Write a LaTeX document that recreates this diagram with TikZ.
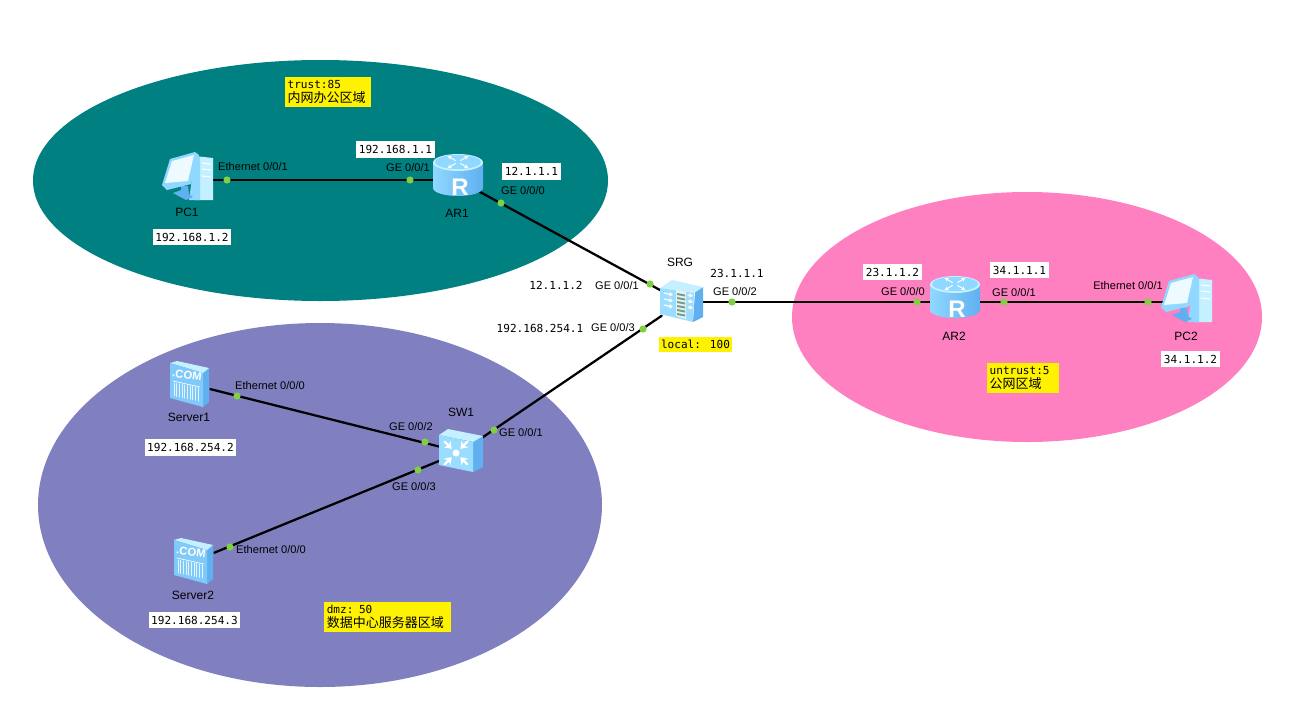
\documentclass[tikz,border=0pt]{standalone}
\usepackage{fontspec}
\usetikzlibrary{arrows.meta}
\setmainfont{Liberation Sans}
\newfontfamily\monofont{DejaVu Sans Mono}
\newfontfamily\cjkfont{Noto Sans CJK SC}
\definecolor{zoneteal}{HTML}{008080}
\definecolor{zonepurple}{HTML}{8080C0}
\definecolor{zonepink}{HTML}{FF80C0}
\definecolor{portgreen}{HTML}{80D040}
\definecolor{iconlight}{HTML}{C4F0FF}
\definecolor{iconmid}{HTML}{90D8FF}
\definecolor{icondark}{HTML}{60B0F0}
\definecolor{brickgrey}{HTML}{70A090}
\tikzset{
  device/.style={inner sep=0pt,minimum width=30pt,minimum height=22pt},
  devname/.style={font=\fontsize{9}{10}\selectfont,text=black,inner sep=0pt},
  port/.style={circle,fill=portgreen,inner sep=0pt,minimum size=5.4pt},
  portname/.style={font=\fontsize{8.3}{10}\selectfont,text=black,inner sep=0pt},
  ipbox/.style={font=\fontsize{8.3}{10}\monofont,fill=white,inner xsep=2pt,inner ysep=0pt,minimum height=12.5pt},
  ipbare/.style={font=\fontsize{8.3}{10}\monofont,inner sep=0pt},
  zonebox/.style={fill=yellow,align=left,inner xsep=2pt,inner ysep=1.5pt,minimum height=22.5pt,font=\fontsize{8.3}{10.5}\monofont},
  link/.style={line width=1.7pt,black},
  % ----- icons, drawn around the centre of the device
  routericon/.pic={
    \shade[left color=iconmid,middle color=iconlight,right color=icondark] (-25,-17) -- (-25,8) arc[start angle=180,end angle=0,x radius=25,y radius=8] -- (25,-17) -- cycle;
    \fill[iconlight] (0,-17.5) ellipse[x radius=25,y radius=8.5];
    \fill[iconmid] (0,-18) ellipse[x radius=23,y radius=7];
    \foreach \a in {30,150,210,330}
      \draw[white,line width=.7pt,-{Stealth[length=3pt,width=3pt]}] (0,-18) ++(\a:3) -- ++(\a:9);
    \node[text=white,font=\bfseries\fontsize{18}{18}\selectfont,inner sep=0pt] (letter) at (2,7) {R};
  },
  boxbody/.pic={
    \fill[icondark] (13,-10) -- (21,-15) -- (21,15) -- (11,20) -- cycle;
    \fill[iconlight] (-22,-14) -- (-10,-22) -- (21,-15) -- (12,-9) -- cycle;
    \fill[iconmid!80!iconlight] (-22,-14) -- (12,-9) -- (11,20) -- (-22,12) -- cycle;
  },
  firewallicon/.pic={
    \pic {boxbody};
    \fill[white!85!brickgrey] (-6,-12) -- (4,-10) -- (4,17) -- (-6,14) -- cycle;
    \foreach \y in {-9,-5,-1,3,7,11}
      \fill[brickgrey] (-5,\y) -- (3,\y+1.5) -- (3,\y+3.5) -- (-5,\y+2) -- cycle;
    \foreach \y in {-8,-2,4}{
      \draw[white,line width=.9pt,-{Stealth[length=3pt,width=3.5pt]}] (-18,\y-1) -- (-9,\y+1);
      \draw[white,line width=.9pt,-{Stealth[length=3pt,width=3.5pt]}] (6,\y+1) -- (11,\y+2);
    }
  },
  switchicon/.pic={
    \fill[icondark] (12,-10) -- (22,-16) -- (22,15) -- (12,20) -- cycle;
    \fill[iconlight] (-22,-17) -- (-13,-23) -- (22,-16) -- (12,-10) -- cycle;
    \fill[iconmid!80!iconlight] (-22,-17) -- (12,-10) -- (12,20) -- (-22,13) -- cycle;
    \fill[white] (-5,1) circle (3.5);
    \foreach \a in {45,135,225,315}
      \draw[white,line width=1.7pt,{Stealth[length=5pt,width=7pt]}-] (-5,1) ++(\a:6) -- ++(\a:10);
  },
  servericon/.pic={
    \fill[icondark] (13,-11) -- (19,-16) -- (19,18) -- (13,23) -- cycle;
    \fill[iconlight] (-20,-21) -- (-13,-23) -- (19,-16) -- (13,-11) -- cycle;
    \fill[iconmid!65!icondark] (-20,-21) -- (13,-11) -- (13,23) -- (-20,14) -- cycle;
    \node[text=white,font=\bfseries\fontsize{8.5}{9}\selectfont,inner sep=0pt,rotate=-8] (dotcom) at (-3,-9) {.COM};
    \draw[white,line width=.5pt] (-17,-3) -- (10,3);
    \foreach \x in {-16,-13.5,-11,-8,-5.5,-3,0,2.5,5,8}
      \draw[white!85!icondark,line width=.7pt] (\x,{-1+(\x+16)*.2}) -- (\x,{12+(\x+16)*.2});
  },
  pcicon/.pic={
    % tower
    \fill[iconlight] (8,-24) -- (26,-22) -- (26,20) -- (8,20) -- cycle;
    \fill[iconmid] (8,-24) -- (13,-23) -- (13,20) -- (2,20) -- cycle;
    \draw[white,line width=.8pt] (15,-17) -- (24,-16) (15,-11) -- (24,-10) (15,-4) -- (24,-3);
    % foot
    \fill[icondark] (-6,6) -- (1,6) -- (2,14) -- (6,17) -- (-1,20) -- (-14,13) -- (-6,10) -- cycle;
    % monitor
    \fill[iconmid] (-25,5) -- (-17,-21) -- (8,-28) -- (12,-25) -- (4,4) -- (-20,10) -- cycle;
    \fill[white!70!iconlight] (-22,3) -- (-15,-19) -- (7,-25) -- (1,1) -- cycle;
  },
}
\begin{document}
\begin{tikzpicture}[x=0.75pt,y=-0.75pt,line cap=round,line join=round]
  \useasboundingbox (0,0) rectangle (1310,718);

  %-------------------------
  % Zones
  %-------------------------
  \fill[zoneteal] (320.5,180.5) ellipse[x radius=287.5,y radius=120.5];
  \fill[zonepurple] (320,505) ellipse[x radius=282,y radius=182];
  \fill[zonepink] (1027,317) ellipse[x radius=235,y radius=125];

  %-------------------------
  % Devices
  %-------------------------
  \node[device] (PC1) at (187,180) {};
  \node[device] (AR1) at (458,180) {};
  \node[device] (SRG) at (682,302) {};
  \node[device] (SW1) at (461,452) {};
  \node[device] (Server1) at (190,384) {};
  \node[device] (Server2) at (194,561) {};
  \node[device] (AR2) at (955,302) {};
  \node[device] (PC2) at (1186,302) {};

  %-------------------------
  % Links
  %-------------------------
  \draw[link] (PC1) -- (AR1);
  \draw[link] (AR1) -- (SRG);
  \draw[link] (SRG) -- (SW1);
  \draw[link] (SRG) -- (AR2);
  \draw[link] (AR2) -- (PC2);
  \draw[link] (Server1) -- (SW1);
  \draw[link] (Server2) -- (SW1);

  % Ports
  \node[port] (p1) at (227,180) {};
  \node[port] (p2) at (410,180) {};
  \node[port] (p3) at (501,203) {};
  \node[port] (p4) at (650,284) {};
  \node[port] (p5) at (643,329) {};
  \node[port] (p6) at (732,302) {};
  \node[port] (p7) at (237,396) {};
  \node[port] (p8) at (425,442) {};
  \node[port] (p9) at (418,470) {};
  \node[port] (p10) at (494,430) {};
  \node[port] (p11) at (230,547) {};
  \node[port] (p12) at (917,302) {};
  \node[port] (p13) at (1004,302) {};
  \node[port] (p14) at (1148,302) {};

  %-------------------------
  % Icons
  %-------------------------
  \pic at (PC1) {pcicon};
  \pic at (PC2) {pcicon};
  \pic at (AR1) {routericon};
  \pic at (AR2) {routericon};
  \pic at (SRG) {firewallicon};
  \pic at (SW1) {switchicon};
  \pic at (Server1) {servericon};
  \pic at (Server2) {servericon};

  % Device names
  \node[devname] (nPC1) at (187,212) {PC1};
  \node[devname] (nAR1) at (457,213) {AR1};
  \node[devname] (nSRG) at (680,262) {SRG};
  \node[devname] (nSW1) at (461,412) {SW1};
  \node[devname] (nServer1) at (189,417) {Server1};
  \node[devname] (nServer2) at (193,595) {Server2};
  \node[devname] (nAR2) at (954,336) {AR2};
  \node[devname] (nPC2) at (1186,336) {PC2};

  % Port names
  \node[portname] (t1) at (253,167) {Ethernet 0/0/1};
  \node[portname] (t2) at (408,168) {GE 0/0/1};
  \node[portname] (t3) at (523,191) {GE 0/0/0};
  \node[portname] (t4) at (617,286) {GE 0/0/1};
  \node[portname] (t5) at (613,328) {GE 0/0/3};
  \node[portname] (t6) at (735,292) {GE 0/0/2};
  \node[portname] (t7) at (270,386) {Ethernet 0/0/0};
  \node[portname] (t8) at (411,427) {GE 0/0/2};
  \node[portname] (t9) at (414,487) {GE 0/0/3};
  \node[portname] (t10) at (521,433) {GE 0/0/1};
  \node[portname] (t11) at (271,550) {Ethernet 0/0/0};
  \node[portname] (t12) at (903,292) {GE 0/0/0};
  \node[portname] (t13) at (1014,293) {GE 0/0/1};
  \node[portname] (t14) at (1128,286) {Ethernet 0/0/1};

  %-------------------------
  % Addresses
  %-------------------------
  \node[ipbox] (ip1) at (192,237) {192.168.1.2};
  \node[ipbox] (ip2) at (395.5,149.5) {192.168.1.1};
  \node[ipbox] (ip3) at (531.5,171.5) {12.1.1.1};
  \node[ipbox] (ip4) at (190.5,447.5) {192.168.254.2};
  \node[ipbox] (ip5) at (194.5,620) {192.168.254.3};
  \node[ipbox] (ip6) at (892.5,272) {23.1.1.2};
  \node[ipbox] (ip7) at (1019.5,270) {34.1.1.1};
  \node[ipbox] (ip8) at (1190.5,359) {34.1.1.2};
  \node[ipbare] (ip9) at (556,285) {12.1.1.2};
  \node[ipbare] (ip10) at (540,328) {192.168.254.1};
  \node[ipbare] (ip11) at (737,273) {23.1.1.1};

  %-------------------------
  % Zone labels
  %-------------------------
  \node[zonebox,text width=60.5pt] (trust) at (328,92) {trust:85\\{\cjkfont\fontsize{9.75}{12}\selectfont 内网办公区域}};
  \node[zonebox,text width=91pt] (dmz) at (387.5,617) {dmz: 50\\{\cjkfont\fontsize{9.75}{12}\selectfont 数据中心服务器区域}};
  \node[zonebox,text width=50pt] (untrust) at (1023,378) {untrust:5\\{\cjkfont\fontsize{9.75}{12}\selectfont 公网区域}};
  \node[zonebox,minimum height=11.5pt,inner xsep=1.5pt,inner ysep=0pt] (local) at (695.5,344.5) {local: 100};

\end{tikzpicture}
\end{document}
